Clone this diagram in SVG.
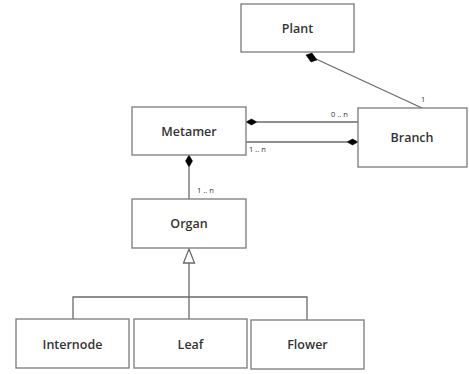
<svg xmlns="http://www.w3.org/2000/svg" width="469" height="374" viewBox="0 0 469 374">
<style>
.box{fill:#fff;stroke:#7a7a7a;stroke-width:1.3}
.lbl{font-family:"Open Sans","Liberation Sans",sans-serif;font-size:12.5px;font-weight:600;fill:#333;text-anchor:middle;dominant-baseline:central}
.mult{font-family:"Open Sans","Liberation Sans",sans-serif;font-size:7.5px;fill:#333}
.ln{fill:none;stroke:#6a6a6a;stroke-width:1.3}
.dia{fill:#000;stroke:#000;stroke-width:0.5}
</style>
<rect width="469" height="374" fill="#fff"/>
<g id="connectors">
  <line class="ln" x1="316" y1="59" x2="422" y2="108"/>
  <polygon class="dia" points="306,55 312,53 317,60 311,62"/>
  <line class="ln" x1="257" y1="122" x2="358" y2="122"/>
  <polygon class="dia" points="246,122 251.5,119 257,122 251.5,125"/>
  <line class="ln" x1="246" y1="142" x2="347" y2="142"/>
  <polygon class="dia" points="347,142 352.5,139 358,142 352.5,145"/>
  <line class="ln" x1="189" y1="167" x2="189" y2="199"/>
  <polygon class="dia" points="189,155 192.5,161 189,167 185.5,161"/>
  <line class="ln" x1="189" y1="263" x2="189" y2="297"/>
  <polygon points="189,249 194.5,263 183.5,263" fill="#fff" stroke="#6a6a6a" stroke-width="1.3"/>
  <polyline class="ln" points="73,319 73,297 307,297 307,320"/>
  <line class="ln" x1="189" y1="297" x2="189" y2="319"/>
  <text class="mult" x="421" y="102">1</text>
  <text class="mult" x="331" y="117">0 .. n</text>
  <text class="mult" x="249" y="152">1 .. n</text>
  <text class="mult" x="197" y="193">1 .. n</text>
</g>
<g id="plant"><rect class="box" x="241" y="4" width="113" height="48"/><text class="lbl" x="297.5" y="28">Plant</text></g>
<g id="metamer"><rect class="box" x="132" y="107" width="114" height="48"/><text class="lbl" x="189" y="131">Metamer</text></g>
<g id="branch"><rect class="box" x="358" y="108" width="109" height="59"/><text class="lbl" x="412" y="137.5">Branch</text></g>
<g id="organ"><rect class="box" x="132" y="199" width="114" height="49"/><text class="lbl" x="189" y="223.5">Organ</text></g>
<g id="internode"><rect class="box" x="16" y="319" width="113" height="49"/><text class="lbl" x="72.5" y="344">Internode</text></g>
<g id="leaf"><rect class="box" x="134" y="319" width="113" height="49"/><text class="lbl" x="190.5" y="344">Leaf</text></g>
<g id="flower"><rect class="box" x="251" y="320" width="113" height="49"/><text class="lbl" x="307.5" y="344.5">Flower</text></g>
</svg>
